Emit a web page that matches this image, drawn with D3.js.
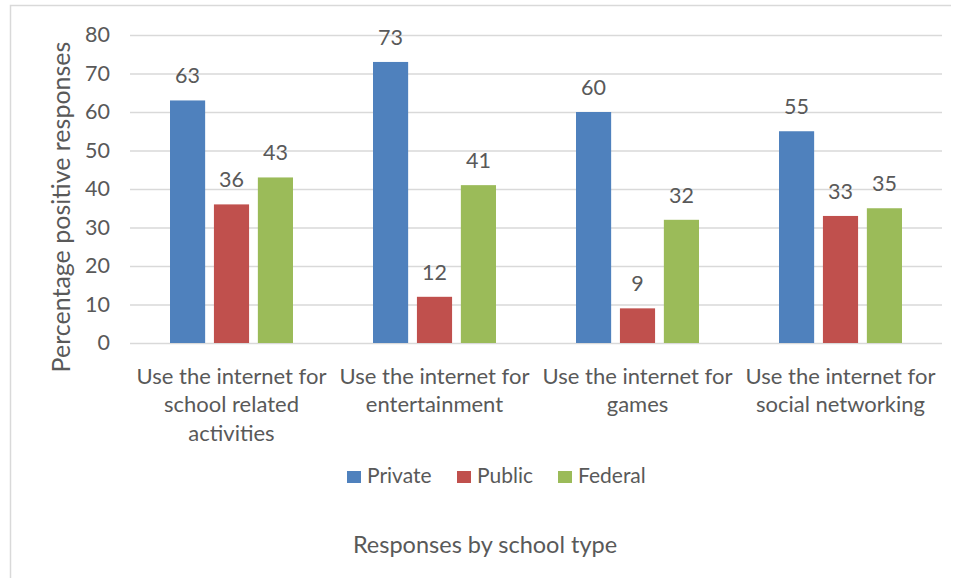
<!DOCTYPE html>
<html><head><meta charset="utf-8">
<script src="https://cdn.jsdelivr.net/npm/d3@7"></script>
<style>body{margin:0;background:#fff}svg{display:block}text{font-family:Lato,"Open Sans",sans-serif;fill:#595959}</style>
</head><body><svg id="c" width="960" height="578"></svg>
<script>
const categories = ["Use the internet for school related activities","Use the internet for entertainment","Use the internet for games","Use the internet for social networking"];
const categoryLines = [["Use the internet for","school related","activities"],["Use the internet for","entertainment"],["Use the internet for","games"],["Use the internet for","social networking"]];
const seriesNames = ["Private","Public","Federal"];
const privateVals = [63,73,60,55];
const publicVals = [36,12,9,33];
const federalVals = [43,41,32,35];
const yTicks = [0,10,20,30,40,50,60,70,80];
const colors = ["#4F81BD","#C0504D","#9BBB59"];
const seriesVals = [privateVals, publicVals, federalVals];

(function(){
const svg = d3.select("#c");
svg.append("path").attr("d","M10.5,580 V5.5 H951").attr("fill","none").attr("stroke","#D9D9D9").attr("stroke-width",1.5);

const pLeft=130, pRight=942, pTop=35, pBottom=343;
const x0 = d3.scaleBand().domain(categories).range([pLeft,pRight]);
const x1 = d3.scaleBand().domain(seriesNames).range([40,163]).paddingInner(0.2);
const y = d3.scaleLinear().domain([0,80]).range([pBottom,pTop]);

svg.append("g").selectAll("line").data(yTicks).join("line")
  .attr("x1",pLeft).attr("x2",pRight).attr("y1",d=>y(d)+0.5).attr("y2",d=>y(d)+0.5)
  .attr("stroke","#D9D9D9").attr("stroke-width",1.5);

const yAxis = d3.axisLeft(y).tickValues(yTicks).tickSize(0).tickPadding(0);
const ga = svg.append("g").attr("transform",`translate(110,0)`).call(yAxis);
ga.select(".domain").remove();
ga.selectAll("text").style("font-size","21.5px").attr("fill","#595959").style("font-family","Lato");

const groups = svg.append("g").selectAll("g").data(categories).join("g")
  .attr("transform",d=>`translate(${x0(d)},0)`);
groups.each(function(cat,ci){
  const g = d3.select(this);
  const data = seriesNames.map((s,si)=>({s,si,v:seriesVals[si][ci]}));
  g.selectAll("rect").data(data).join("rect")
    .attr("x",d=>x1(d.s)).attr("width",x1.bandwidth())
    .attr("y",d=>y(d.v)).attr("height",d=>y(0)-y(d.v))
    .attr("fill",d=>colors[d.si]);
  g.selectAll("text.lbl").data(data).join("text").attr("class","lbl")
    .attr("x",d=>x1(d.s)+x1.bandwidth()/2).attr("y",d=>y(d.v)-17)
    .attr("text-anchor","middle").style("font-size","21.5px").text(d=>d.v);
});

const xl = svg.append("g").selectAll("text").data(categories).join("text")
  .attr("x",d=>x0(d)+x0.bandwidth()/2).attr("y",384)
  .attr("text-anchor","middle").style("font-size","22px");
xl.each(function(d,i){
  d3.select(this).selectAll("tspan").data(categoryLines[i]).join("tspan")
    .attr("x",x0(d)+x0.bandwidth()/2).attr("dy",(t,j)=>j===0?0:28.3).text(t=>t);
});

svg.append("text").attr("transform","translate(70,207) rotate(-90)")
  .attr("text-anchor","middle").style("font-size","25px").text("Percentage positive responses");

const legX = [347,457,558];
const leg = svg.append("g").selectAll("g").data(seriesNames).join("g")
  .attr("transform",(d,i)=>`translate(${legX[i]},471)`);
leg.append("rect").attr("width",14).attr("height",12).attr("fill",(d,i)=>colors[i]);
leg.append("text").attr("x",20).attr("y",12).style("font-size","21px").text(d=>d);

svg.append("text").attr("x",485).attr("y",553).attr("text-anchor","middle")
  .style("font-size","23.5px").text("Responses by school type");
})();
</script></body></html>
